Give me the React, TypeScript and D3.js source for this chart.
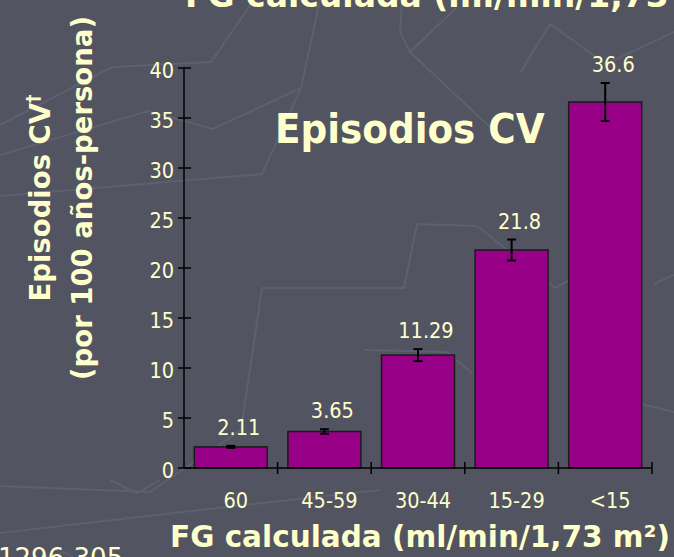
import React from "react";
import * as d3 from "d3";

const categories = ["60", "45-59", "30-44", "15-29", "<15"];
const values = [2.11, 3.65, 11.29, 21.8, 36.6];
const errors = [0.1, 0.23, 0.6, 1.05, 1.9];
const valueLabels = ["2.11", "3.65", "11.29", "21.8", "36.6"];
const yTicks = [0, 5, 10, 15, 20, 25, 30, 35, 40];

const W = 674;
const H = 557;
const BG = "#525462";
const TXT = "#FFFFCC";
const BAR = "#990088";

// decorative background texture (slide theme)
const texture: [number, number][][] = [
  [[0, 125], [112, 67], [211, 62], [254, 0]],
  [[320, 0], [301, 88], [213, 129], [148, 111], [0, 155]],
  [[402, 0], [400, 32], [410, 52], [456, 8]],
  [[410, 52], [493, 130]],
  [[520, 73], [550, 24], [606, 64], [674, 32]],
  [[0, 196], [262, 174], [301, 88]],
  [[262, 288], [404, 288], [417, 224], [477, 226], [555, 288], [602, 262]],
  [[0, 486], [150, 492], [241, 430], [262, 288]],
  [[365, 350], [447, 352], [473, 374]],
  [[0, 572], [64, 552], [138, 595]],
  [[636, 585], [674, 576]],
  [[641, 404], [674, 412]],
  [[654, 284], [674, 275]],
  [[0, 533], [200, 510], [380, 490]],
  [[110, 480], [137, 493], [160, 480]],
];

const condensed = "'DejaVu Sans Condensed', 'DejaVu Sans', sans-serif";
const normal = "'DejaVu Sans', Verdana, sans-serif";

export default function App() {
  const x = d3
    .scaleBand<string>()
    .domain(categories)
    .range([184, 652])
    .paddingInner(0.22)
    .paddingOuter(0.11);
  const y = d3.scaleLinear().domain([0, 40]).range([468, 68]);
  const line = d3.line();
  const step = x.step();
  const x0 = x.range()[0];
  const boundaries = d3.range(categories.length + 1).map((i) => x0 + i * step);

  return (
    <svg
      width={W}
      height={H}
      style={{ position: "absolute", left: 0, top: 0, display: "block" }}
    >
      <rect x={0} y={0} width={W} height={H} fill={BG} />
      {texture.map((pts, i) => (
        <path
          key={i}
          d={line(pts) || ""}
          fill="none"
          stroke="#5e606f"
          strokeWidth={2}
        />
      ))}

      {/* top cut-off title */}
      <text
        x={185}
        y={7}
        fill={TXT}
        fontFamily={normal}
        fontWeight="bold"
        fontSize={33}
      >
        FG calculada (ml/min/1,73 m²)
      </text>

      {/* bottom-left cut-off reference */}
      <text x={-2} y={567} fill={TXT} fontFamily={normal} fontSize={26}>
        1296-305
      </text>

      {/* bars */}
      {categories.map((c, i) => (
        <rect
          key={c}
          x={x(c)}
          y={y(values[i])}
          width={x.bandwidth()}
          height={y(0) - y(values[i])}
          fill={BAR}
          stroke="#1a1a1a"
          strokeWidth={1.5}
        />
      ))}

      {/* error bars */}
      {categories.map((c, i) => {
        const cx = (x(c) as number) + x.bandwidth() / 2;
        const top = y(values[i] + errors[i]);
        const bot = y(values[i] - errors[i]);
        return (
          <g key={c} stroke="#000" strokeWidth={2}>
            <line x1={cx} x2={cx} y1={top} y2={bot} />
            <line x1={cx - 4.5} x2={cx + 4.5} y1={top} y2={top} />
            <line x1={cx - 4.5} x2={cx + 4.5} y1={bot} y2={bot} />
          </g>
        );
      })}

      {/* value labels */}
      {categories.map((c, i) => {
        const cx = (x(c) as number) + x.bandwidth() / 2 + 8;
        return (
          <text
            key={c}
            x={cx}
            y={y(values[i] + errors[i]) - 11}
            fill={TXT}
            fontFamily={condensed}
            fontStretch="condensed"
            fontSize={21.5}
            textAnchor="middle"
          >
            {valueLabels[i]}
          </text>
        );
      })}

      {/* y axis */}
      <line x1={184} x2={184} y1={y(40)} y2={y(0)} stroke="#000" strokeWidth={1.5} />
      {yTicks.map((t) => (
        <g key={t}>
          <line x1={178} x2={191} y1={y(t)} y2={y(t)} stroke="#000" strokeWidth={1.5} />
          <text
            x={174}
            y={y(t) + 9.5}
            fill={TXT}
            fontFamily={condensed}
            fontStretch="condensed"
            fontSize={21.5}
            textAnchor="end"
          >
            {t}
          </text>
        </g>
      ))}

      {/* x axis */}
      <line x1={x0} x2={x.range()[1]} y1={y(0)} y2={y(0)} stroke="#000" strokeWidth={1.5} />
      {boundaries.slice(1).map((bx, i) => (
        <line key={i} x1={bx} x2={bx} y1={y(0) - 6} y2={y(0) + 6} stroke="#000" strokeWidth={1.5} />
      ))}
      {categories.map((c) => (
        <text
          key={c}
          x={(x(c) as number) + x.bandwidth() / 2 + 5}
          y={508}
          fill={TXT}
          fontFamily={condensed}
          fontStretch="condensed"
          fontSize={21.5}
          textAnchor="middle"
        >
          {c}
        </text>
      ))}

      {/* chart title */}
      <text
        x={275}
        y={143}
        fill={TXT}
        fontFamily={condensed}
        fontStretch="condensed"
        fontWeight="bold"
        fontSize={41.5}
      >
        Episodios CV
      </text>

      {/* x axis title */}
      <text
        x={170}
        y={547}
        fill={TXT}
        fontFamily={normal}
        fontWeight="bold"
        fontSize={29.5}
      >
        FG calculada (ml/min/1,73 m²)
      </text>

      {/* y axis title */}
      <g transform="translate(0,198) rotate(-90)">
        <text
          x={0}
          y={50}
          fill={TXT}
          fontFamily={normal}
          fontWeight="bold"
          fontSize={27.5}
          textAnchor="middle"
        >
          Episodios CV
          <tspan fontSize={17} dy={-11}>†</tspan>
        </text>
        <text
          x={0}
          y={92}
          fill={TXT}
          fontFamily={normal}
          fontWeight="bold"
          fontSize={27.5}
          textAnchor="middle"
        >
          (por 100 años-persona)
        </text>
      </g>
    </svg>
  );
}
